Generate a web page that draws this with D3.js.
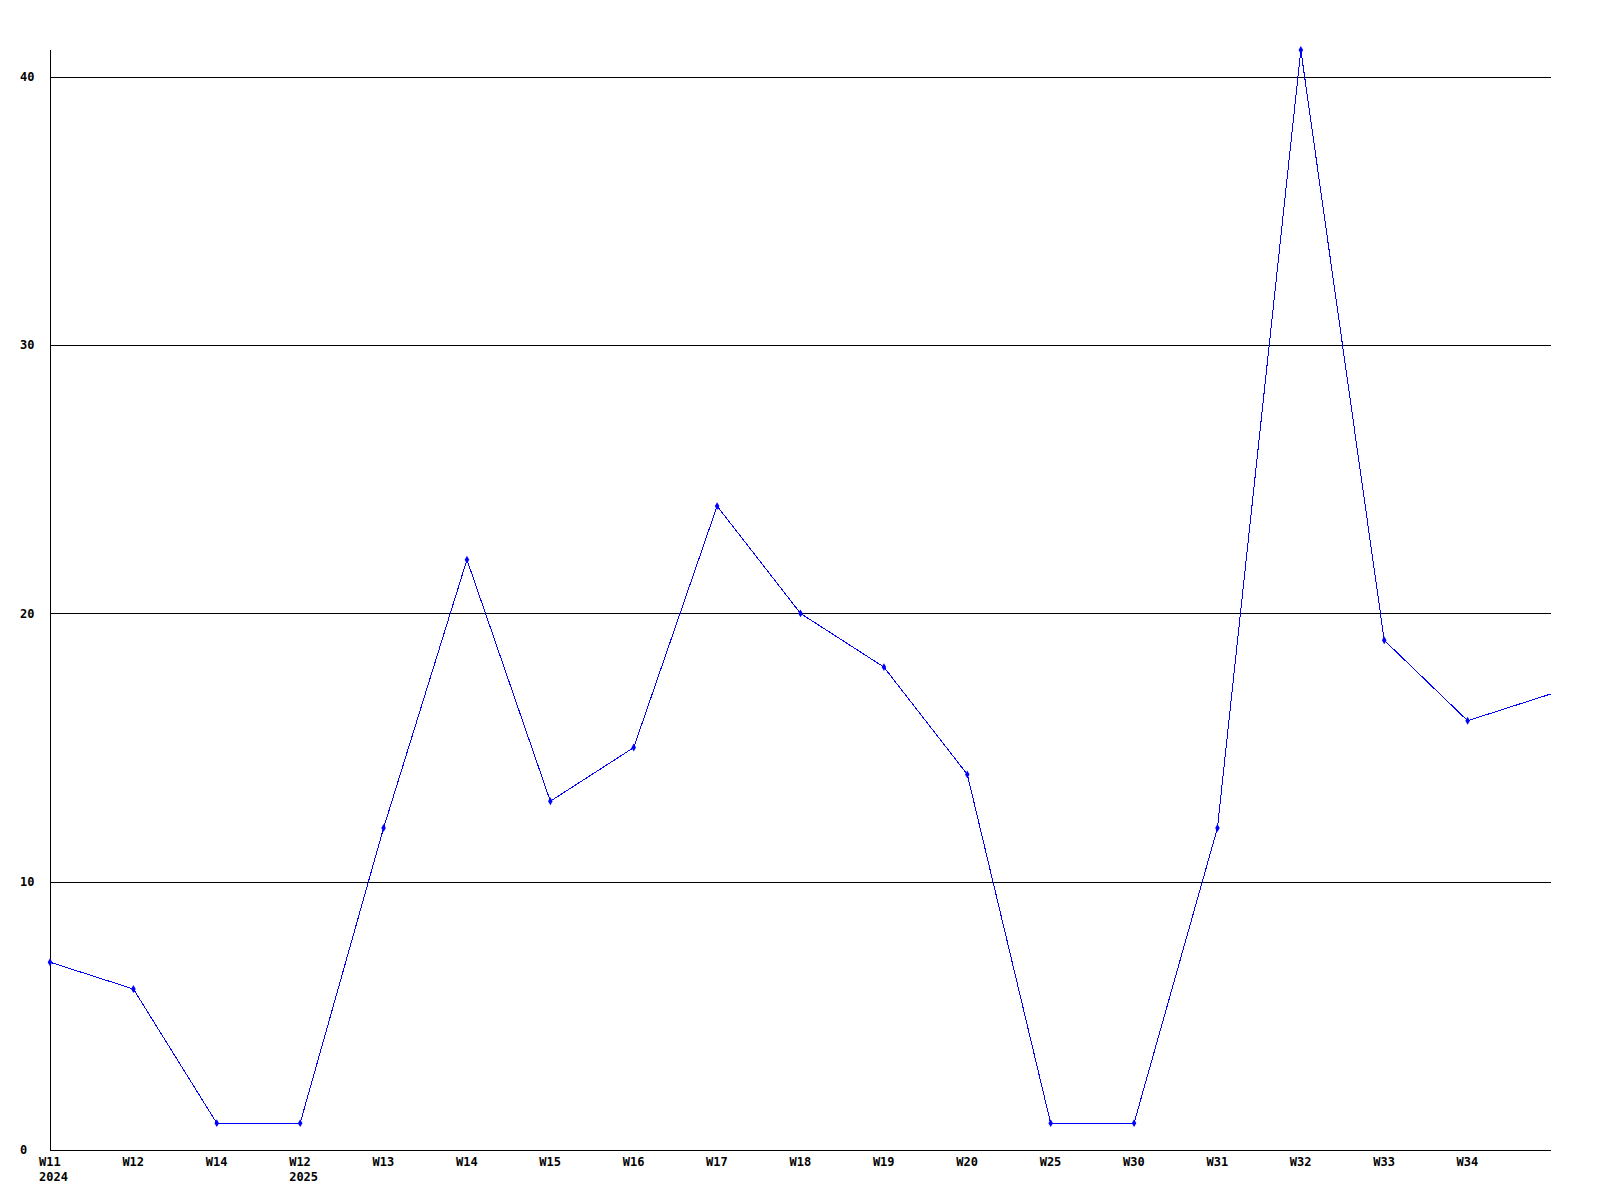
<!DOCTYPE html>
<html>
<head>
<meta charset="utf-8">
<script src="https://cdn.jsdelivr.net/npm/d3@7"></script>
<style>
  html, body { margin: 0; padding: 0; background: #fff; }
  svg text { font-family: "DejaVu Sans Mono", "Liberation Mono", monospace; font-weight: bold; font-size: 12px; fill: #000; }
</style>
</head>
<body>
<svg id="chart" width="1600" height="1200"></svg>
<script>
const weekLabels = ["W11", "W12", "W14", "W12", "W13", "W14", "W15", "W16", "W17", "W18", "W19", "W20", "W25", "W30", "W31", "W32", "W33", "W34", ""];
const yearLabels = ["2024", "", "", "2025", "", "", "", "", "", "", "", "", "", "", "", "", "", "", ""];
const values = [7, 6, 1, 1, 12, 22, 13, 15, 24, 20, 18, 14, 1, 1, 12, 41, 19, 16, 17];
const yTicks = [0, 10, 20, 30, 40];

(function () {
const svg = d3.select("#chart");
const mLeft = 50, mRight = 1551, mTop = 50, mBottom = 1150;

const x = d3.scaleLinear().domain([0, values.length - 1]).range([mLeft, mRight]);
const y = d3.scaleLinear().domain([0, d3.max(values)]).range([mBottom, mTop]);

// gridlines
svg.append("g").selectAll("line").data(yTicks.filter(d => d > 0)).join("line")
  .attr("x1", mLeft).attr("x2", mRight)
  .attr("y1", d => Math.round(y(d)) + 0.5).attr("y2", d => Math.round(y(d)) + 0.5)
  .attr("stroke", "#000").attr("stroke-width", 1).attr("shape-rendering", "crispEdges");

// y tick labels
svg.append("g").selectAll("text").data(yTicks).join("text")
  .attr("x", 20).attr("y", d => y(d)).attr("dy", "0.35em")
  .text(d => d);

// axes lines
svg.append("line").attr("x1", mLeft + 0.5).attr("x2", mLeft + 0.5).attr("y1", mTop).attr("y2", mBottom + 0.5)
  .attr("stroke", "#000").attr("shape-rendering", "crispEdges");
svg.append("line").attr("x1", mLeft).attr("x2", mRight).attr("y1", mBottom + 0.5).attr("y2", mBottom + 0.5)
  .attr("stroke", "#000").attr("shape-rendering", "crispEdges");

// x labels
const xl = svg.append("g");
xl.selectAll("text.w").data(weekLabels).join("text").attr("class", "w")
  .attr("x", (d, i) => x(i) - 11).attr("y", 1166).text(d => d);
xl.selectAll("text.yr").data(yearLabels).join("text").attr("class", "yr")
  .attr("x", (d, i) => x(i) - 11).attr("y", 1181).text(d => d);

// line
const line = d3.line().x((d, i) => x(i)).y(d => y(d));
svg.append("path").datum(values).attr("d", line)
  .attr("fill", "none").attr("stroke", "#0000ff").attr("stroke-width", 1)
  .attr("shape-rendering", "crispEdges");

// markers
svg.append("g").selectAll("path").data(values.slice(0, values.length - 1)).join("path")
  .attr("transform", (d, i) => `translate(${x(i)},${y(d)})`)
  .attr("d", d3.symbol().type(d3.symbolDiamond).size(18))
  .attr("fill", "#0000ff");
})();
</script>
</body>
</html>
